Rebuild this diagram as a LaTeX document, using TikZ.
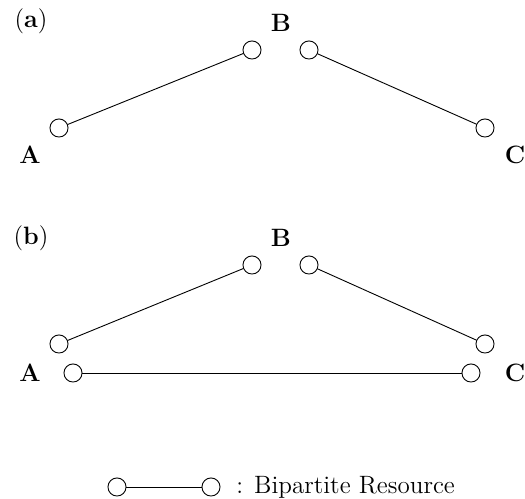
\documentclass[tikz,border=0pt]{standalone}
\begin{document}
\begin{tikzpicture}[x=0.4425pt,y=-0.4425pt,
  every node/.style={font=\fontsize{11.1}{13}\selectfont},
  res/.style={circle,draw,fill=white,inner sep=0pt,minimum size=8pt},
  lbl/.style={inner sep=0pt,font=\fontsize{11.1}{13}\selectfont\bfseries},
  link/.style={draw,line width=0.4pt}]
\useasboundingbox (0,0) rectangle (525,499);
% panel (a)
\node[inner sep=0pt] (pa) at (31,21.5) {(\textbf{a})};
\node[res] (aA) at (59,128) {};
\node[res] (aB1) at (252,50) {};
\node[res] (aB2) at (309,50) {};
\node[res] (aC) at (485,128) {};
\node[lbl] (laA) at (30,154.5) {A};
\node[lbl] (laB) at (281,23) {B};
\node[lbl] (laC) at (515,154.5) {C};
\draw[link] (aA) -- (aB1);
\draw[link] (aB2) -- (aC);
% panel (b)
\node[inner sep=0pt] (pb) at (31,238) {(\textbf{b})};
\node[res] (bB1) at (252,265) {};
\node[res] (bB2) at (309,265) {};
\node[res] (bA1) at (59,344) {};
\node[res] (bC1) at (485,344) {};
\node[res] (bA2) at (73,373) {};
\node[res] (bC2) at (471,373) {};
\node[lbl] (lbA) at (30,373) {A};
\node[lbl] (lbB) at (281,238) {B};
\node[lbl] (lbC) at (515,373) {C};
\draw[link] (bA1) -- (bB1);
\draw[link] (bB2) -- (bC1);
\draw[link] (bA2) -- (bC2);
% legend
\node[res] (g1) at (117,487) {};
\node[res] (g2) at (211,487) {};
\draw[link] (g1) -- (g2);
\node[anchor=west,inner sep=0pt] (gt) at (236,487) {: Bipartite Resource};
\end{tikzpicture}
\end{document}
